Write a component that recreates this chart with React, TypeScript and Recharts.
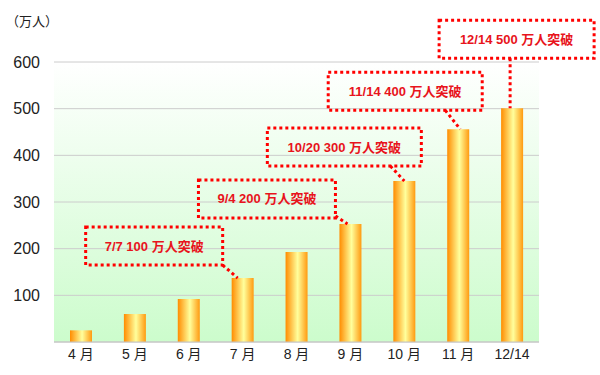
import React from "react";
import {
  BarChart,
  Bar,
  XAxis,
  YAxis,
  CartesianGrid,
  LabelList,
} from "recharts";

// 入場者数の累計（万人）
const months = ["4 月", "5 月", "6 月", "7 月", "8 月", "9 月", "10 月", "11 月", "12/14"];
const visitors = [25, 60, 92, 137, 193, 253, 345, 456, 501];
const yTicks = [100, 200, 300, 400, 500, 600];

// 突破マイルストーン
const milestoneIndex = [3, 5, 6, 7, 8];
const milestoneText = [
  "7/7 100 万人突破",
  "9/4 200 万人突破",
  "10/20 300 万人突破",
  "11/14 400 万人突破",
  "12/14 500 万人突破",
];

const data = months.map((m, i) => ({ month: m, value: visitors[i] }));

const FONT = '"Liberation Sans", Arial, "Noto Sans CJK JP", sans-serif';
const RED = "#ff0000";

// callout box placement relative to the bar's centre / top
const calloutLayout = [
  { right: -20, bottom: -13, w: 137, from: [-20, -13], to: [-5, 0] },
  { right: -15, bottom: -6, w: 137, from: [-15, -8], to: [-3, 0] },
  { right: 17, bottom: -15, w: 154, from: [-14, -15], to: [0, 0] },
  { right: 24, bottom: -19, w: 154, from: [-13, -19], to: [2, 0] },
  { right: 82, bottom: -50, w: 155, from: [-2, -50], to: [-2, 0] },
];

const Callout = (props: any) => {
  const { x, y, width, index } = props;
  const k = milestoneIndex.indexOf(index);
  if (k < 0) return null;
  const cx = Number(x) + Number(width) / 2;
  const top = Number(y);
  const l = calloutLayout[k];
  const h = 38;
  const bx = cx + l.right - l.w;
  const by = top + l.bottom - h;
  return (
    <g>
      <rect
        x={bx}
        y={by}
        width={l.w}
        height={h}
        fill="none"
        stroke={RED}
        strokeWidth={3}
        strokeDasharray="3 3"
      />
      <line
        x1={cx + l.from[0]}
        y1={top + l.from[1]}
        x2={cx + l.to[0]}
        y2={top + l.to[1]}
        stroke={RED}
        strokeWidth={3}
        strokeDasharray="3 3"
      />
      <text
        x={bx + l.w / 2}
        y={by + h / 2}
        textAnchor="middle"
        dominantBaseline="central"
        fill="#e8141c"
        fontSize={13}
        fontWeight="bold"
        fontFamily={FONT}
      >
        {milestoneText[k]}
      </text>
    </g>
  );
};

export default function App() {
  return (
    <div
      style={{
        position: "absolute",
        left: 0,
        top: 0,
        width: 600,
        height: 375,
        background: "#fff",
        fontFamily: FONT,
      }}
    >
      <div
        style={{
          position: "absolute",
          left: 6,
          top: 11,
          fontSize: 13,
          color: "#222",
        }}
      >
        （万人）
      </div>
      <BarChart
        width={600}
        height={375}
        data={data}
        margin={{ top: 62, right: 61, bottom: 0, left: 0 }}
      >
        <defs>
          <linearGradient id="bg" x1="0" y1="0" x2="0" y2="1">
            <stop offset="0%" stopColor="#ffffff" />
            <stop offset="100%" stopColor="#ccfccc" />
          </linearGradient>
          <linearGradient id="barFill" x1="0" y1="0" x2="1" y2="0">
            <stop offset="0%" stopColor="#ff8c00" />
            <stop offset="55%" stopColor="#ffff9c" />
            <stop offset="100%" stopColor="#ff9a10" />
          </linearGradient>
        </defs>
        <CartesianGrid
          vertical={false}
          stroke="#cccccc"
          fill="url(#bg)"
          fillOpacity={1}
        />
        <XAxis
          dataKey="month"
          height={33}
          tickLine={false}
          tickSize={0}
          tickMargin={7}
          axisLine={{ stroke: "#c4c4c4" }}
          tick={{ fill: "#222", fontSize: 14, fontFamily: FONT }}
          interval={0}
        />
        <YAxis
          domain={[0, 600]}
          ticks={yTicks}
          width={54}
          tickLine={false}
          axisLine={false}
          tickSize={0}
          tickMargin={14}
          tick={{ fill: "#222", fontSize: 16, fontFamily: FONT }}
        />
        <Bar
          dataKey="value"
          fill="url(#barFill)"
          barSize={22}
          isAnimationActive={false}
        >
          <LabelList dataKey="value" content={Callout} />
        </Bar>
      </BarChart>
    </div>
  );
}
